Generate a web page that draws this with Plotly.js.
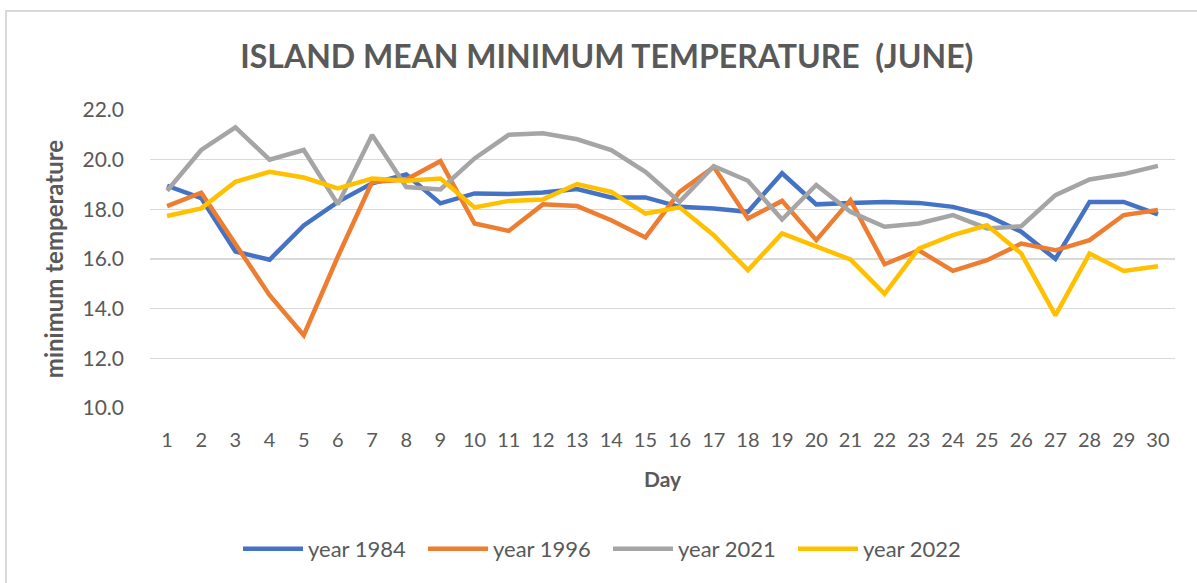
<!DOCTYPE html>
<html>
<head>
<meta charset="utf-8">
<script src="https://cdn.plot.ly/plotly-3.0.1.min.js"></script>
<style>
html,body{margin:0;padding:0;background:#fff;}
#chart{width:1197px;height:583px;}
</style>
</head>
<body>
<div id="chart"></div>
<script>
const days = [1,2,3,4,5,6,7,8,9,10,11,12,13,14,15,16,17,18,19,20,21,22,23,24,25,26,27,28,29,30];
const year1984 = [18.95,18.45,16.3,15.97,17.35,18.3,19.05,19.4,18.24,18.64,18.62,18.68,18.82,18.48,18.48,18.1,18.03,17.9,19.45,18.2,18.25,18.3,18.26,18.1,17.75,17.1,16.0,18.3,18.3,17.8];
const year1996 = [18.13,18.67,16.6,14.54,12.93,16.1,19.1,19.2,19.94,17.43,17.13,18.2,18.13,17.56,16.87,18.7,19.71,17.63,18.34,16.76,18.37,15.79,16.35,15.52,15.95,16.62,16.35,16.76,17.77,17.97];
const year2021 = [18.75,20.39,21.3,20.0,20.39,18.2,20.99,18.9,18.8,20.05,21.0,21.06,20.82,20.39,19.51,18.3,19.74,19.15,17.59,18.98,17.9,17.3,17.43,17.77,17.23,17.32,18.57,19.2,19.42,19.75];
const year2022 = [17.73,18.04,19.11,19.51,19.28,18.84,19.24,19.15,19.24,18.08,18.34,18.4,19.02,18.7,17.83,18.08,16.96,15.55,17.03,16.49,15.98,14.6,16.42,16.96,17.36,16.22,13.73,16.22,15.52,15.71];
const seriesNames = ["year 1984","year 1996","year 2021","year 2022"];
const seriesColors = ["#4472C4","#ED7D31","#A5A5A5","#FFC000"];
const seriesData = [year1984, year1996, year2021, year2022];
const yTicks = [10,12,14,16,18,20,22];

const FONT = "Lato, 'Open Sans', sans-serif";
const traces = seriesData.map((ys, i) => ({
  x: days, y: ys, type: "scatter", mode: "lines", name: seriesNames[i],
  line: {color: seriesColors[i], width: 4.5, shape: "linear"}
}));

const layout = {
  width: 1197, height: 583,
  margin: {l: 150, r: 22, t: 110, b: 175},
  paper_bgcolor: "#ffffff", plot_bgcolor: "#ffffff",
  font: {family: FONT, color: "#595959", size: 20},
  title: {text: "<b>ISLAND MEAN MINIMUM TEMPERATURE  (JUNE)</b>", font: {family: FONT, size: 32, color: "#595959"},
          xref: "container", x: 0.507, xanchor: "center", yref: "container", y: 1 - 57/583, yanchor: "middle"},
  xaxis: {
    range: [0.5, 30.5], tickmode: "array", tickvals: days, ticktext: days.map(String),
    showgrid: false, zeroline: false, showline: false, ticks: "", ticklabelstandoff: 18,
    tickfont: {size: 20, color: "#595959"},
    title: {text: "<b>Day</b>", font: {size: 21, color: "#595959"}, standoff: 22}
  },
  yaxis: {
    range: [10, 22], tickmode: "array", tickvals: yTicks, ticktext: yTicks.map(v => v.toFixed(1)),
    showgrid: true, gridcolor: "#d9d9d9", gridwidth: 1.5, zeroline: false, showline: false, ticks: "",
    ticklabelstandoff: 25, tickfont: {size: 21, color: "#595959"},
    title: {text: "<b>minimum temperature</b>", font: {size: 24, color: "#595959"}, standoff: 12}
  },
  legend: {orientation: "h", x: (608-150)/1025, xanchor: "center", y: (408-549)/298, yanchor: "middle",
           font: {size: 22, color: "#595959"}, itemwidth: 60, entrywidth: 110, entrywidthmode: "pixels",
           traceorder: "normal"},
  shapes: [{type: "rect", xref: "paper", yref: "paper",
            x0: (6-150)/1025, x1: (1210-150)/1025, y0: (408-600)/298, y1: (408-11)/298,
            line: {color: "#d9d9d9", width: 2}, fillcolor: "rgba(0,0,0,0)", layer: "below"}],
  showlegend: true
};

Plotly.newPlot("chart", traces, layout, {displayModeBar: false, staticPlot: true});
</script>
</body>
</html>
